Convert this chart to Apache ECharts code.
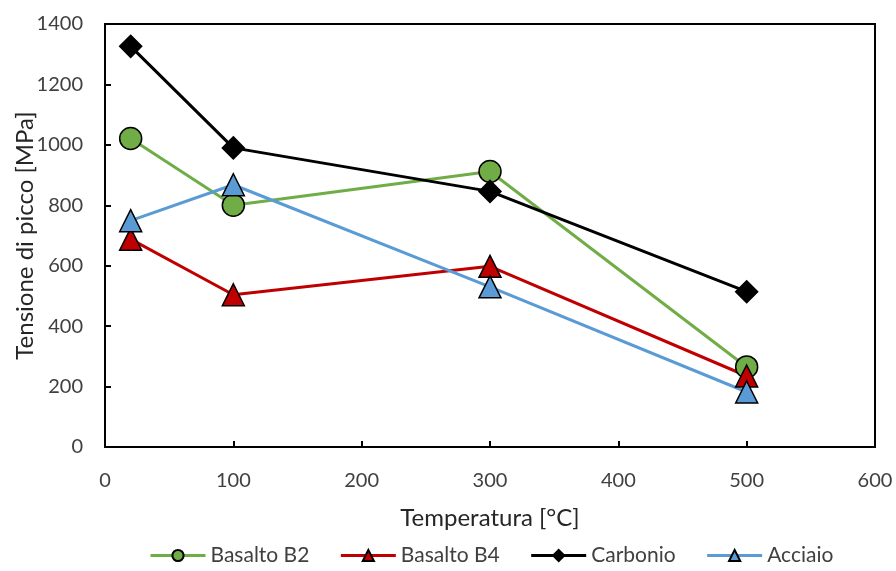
<!DOCTYPE html>
<html>
<head>
<meta charset="utf-8">
<script src="https://cdn.jsdelivr.net/npm/echarts@6/dist/echarts.min.js"></script>
<style>
html,body{margin:0;padding:0;background:#fff;}
#chart{width:896px;height:571px;}
</style>
</head>
<body>
<div id="chart"></div>
<script>
var temperature = [20, 100, 300, 500];
var basaltoB2 = [1021, 800, 912, 265];
var basaltoB4 = [688, 504, 598, 235];
var carbonio = [1326, 990, 846, 514];
var acciaio = [749, 868, 530, 182];
var xTicks = [0, 100, 200, 300, 400, 500, 600];
var yTicks = [0, 200, 400, 600, 800, 1000, 1200, 1400];

var FONT = 'Lato, "Open Sans", sans-serif';
function pairs(vals){ return temperature.map(function(t,i){ return [t, vals[i]]; }); }
function mk(name, vals, color, symbol, size){
  return {
    name: name, type: 'line', data: pairs(vals),
    symbol: symbol, symbolSize: size,
    lineStyle: {color: color, width: 3},
    itemStyle: {color: color, borderColor: '#000', borderWidth: 1.5},
    emphasis: {disabled: true}
  };
}
var chart = echarts.init(document.getElementById('chart'), null, {renderer: 'canvas'});
chart.setOption({
  animation: false,
  backgroundColor: '#fff',
  grid: {left: 105, right: 21, top: 24, bottom: 124, show: true, borderColor: '#000', borderWidth: 2,
         containLabel: false, outerBoundsMode: 'none'},
  xAxis: {
    type: 'value', min: xTicks[0], max: xTicks[xTicks.length-1], interval: 100,
    name: 'Temperatura [°C]', nameLocation: 'middle', nameGap: 59, nameMoveOverlap: false,
    nameTextStyle: {fontFamily: FONT, fontSize: 24, color: '#262626'},
    axisLine: {show: true, lineStyle: {color: '#000', width: 2}},
    axisTick: {show: true, inside: true, length: 6, lineStyle: {color: '#000', width: 2}},
    axisLabel: {fontFamily: FONT, fontSize: 20, color: '#404040', margin: 24, formatter: function(v){return String(v);}},
    splitLine: {show: false}
  },
  yAxis: {
    type: 'value', min: yTicks[0], max: yTicks[yTicks.length-1], interval: 200,
    name: 'Tensione di picco [MPa]', nameLocation: 'middle', nameGap: 68, nameMoveOverlap: false,
    nameTextStyle: {fontFamily: FONT, fontSize: 24, color: '#262626'},
    axisLine: {show: true, lineStyle: {color: '#000', width: 2}},
    axisTick: {show: true, inside: true, length: 6, lineStyle: {color: '#000', width: 2}},
    axisLabel: {fontFamily: FONT, fontSize: 20, color: '#404040', margin: 22, formatter: function(v){return String(v);}},
    splitLine: {show: false}
  },
  legend: {
    bottom: 0, left: 144, itemGap: 30, itemWidth: 55, itemHeight: 14,
    lineStyle: {width: 3},
    textStyle: {fontFamily: FONT, fontSize: 21, color: '#404040'},
    data: ['Basalto B2', 'Basalto B4', 'Carbonio', 'Acciaio']
  },
  series: [
    mk('Basalto B2', basaltoB2, '#70AD47', 'circle', 22),
    mk('Basalto B4', basaltoB4, '#C00000', 'triangle', 22),
    mk('Carbonio', carbonio, '#000000', 'diamond', 22),
    mk('Acciaio', acciaio, '#5B9BD5', 'triangle', 22)
  ]
});
</script>
</body>
</html>
